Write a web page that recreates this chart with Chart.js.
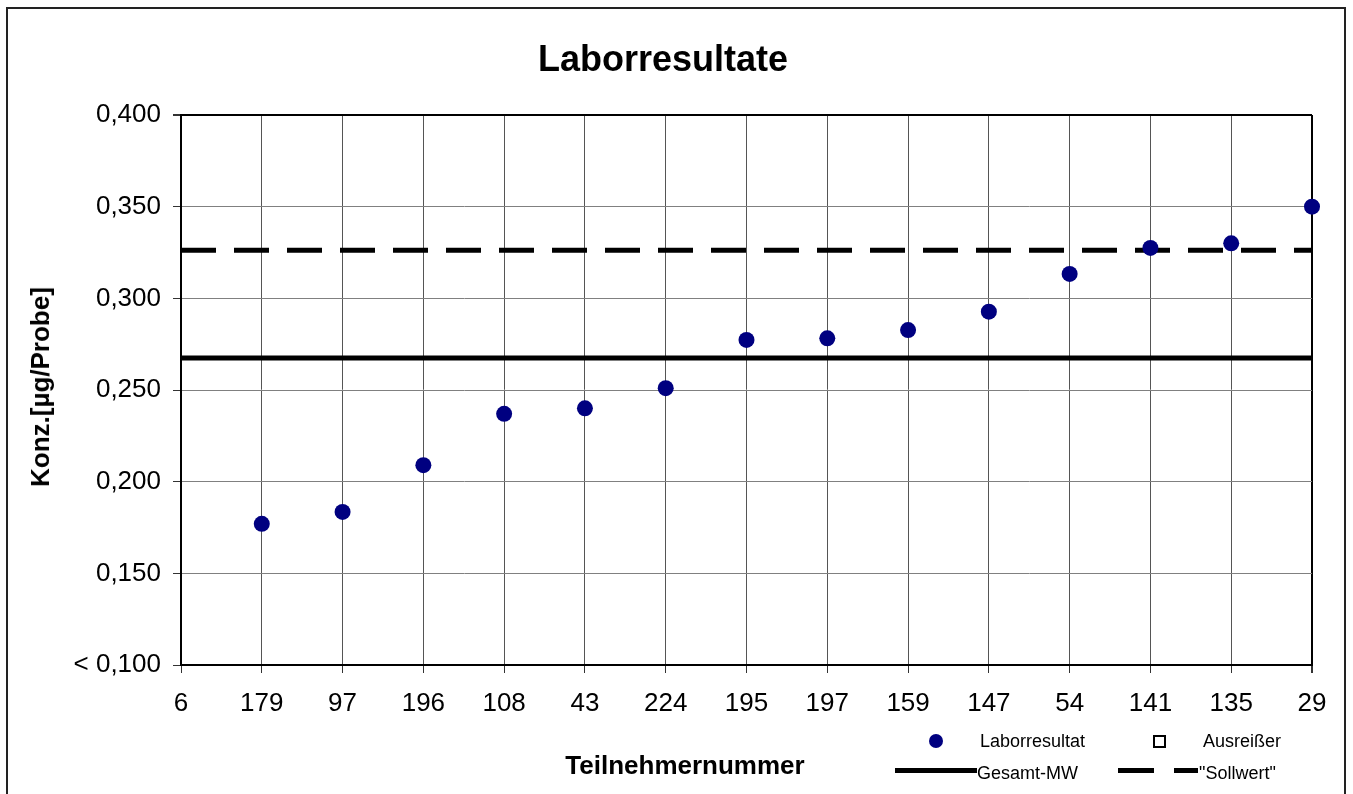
<!DOCTYPE html>
<html>
<head>
<meta charset="utf-8">
<script src="https://cdn.jsdelivr.net/npm/chart.js@4.4.0/dist/chart.umd.min.js"></script>
<style>
  html, body { margin: 0; padding: 0; background: #fff; }
  body { width: 1353px; height: 794px; position: relative; overflow: hidden; font-family: "Liberation Sans", Arial, sans-serif; }
  #frame { position: absolute; left: 6px; top: 7px; width: 1340px; height: 820px; border: 2px solid #222; box-sizing: border-box; }
  canvas { position: absolute; left: 0; top: 0; }
  .txt { position: absolute; line-height: 1; white-space: nowrap; color: #000; }
  #title { left: 663px; top: 41px; font-size: 36px; font-weight: bold; transform: translateX(-50%); }
  #xtitle { left: 685px; top: 752px; font-size: 26px; font-weight: bold; transform: translateX(-50%); }
  #ytitle { left: 40px; top: 387px; font-size: 26px; font-weight: bold; transform: translate(-50%, -50%) rotate(-90deg); }
  .leg { font-size: 18px; }
  .sw { position: absolute; background: #000; }
</style>
</head>
<body>
<div id="frame"></div>
<canvas id="chart" width="1353" height="794"></canvas>

<div class="txt" id="title">Laborresultate</div>
<div class="txt" id="xtitle">Teilnehmernummer</div>
<div class="txt" id="ytitle">Konz.[µg/Probe]</div>

<!-- legend -->
<div class="sw" style="left:929px; top:734px; width:14px; height:14px; border-radius:50%; background:#000080;"></div>
<div class="txt leg" style="left:980px; top:732px;">Laborresultat</div>
<div class="sw" style="left:1153px; top:735px; width:13px; height:13px; background:#fff; border:2px solid #000; box-sizing:border-box;"></div>
<div class="txt leg" style="left:1203px; top:732px;">Ausreißer</div>
<div class="sw" style="left:895px; top:768px; width:82px; height:5px;"></div>
<div class="txt leg" style="left:977px; top:764px;">Gesamt-MW</div>
<div class="sw" style="left:1118px; top:768px; width:36px; height:5px;"></div>
<div class="sw" style="left:1174px; top:768px; width:24px; height:5px;"></div>
<div class="txt leg" style="left:1199px; top:764px;">"Sollwert"</div>

<script>
// Teilnehmer (x categories)
const teilnehmer = ['6', '179', '97', '196', '108', '43', '224', '195', '197', '159', '147', '54', '141', '135', '29'];

// Laborresultate in µg/Probe (6 lies below the axis -> no point)
const laborresultat = [null, 0.177, 0.1835, 0.209, 0.237, 0.240, 0.251, 0.2773, 0.2782, 0.2827, 0.2927, 0.3133, 0.3275, 0.330, 0.350];

// Reference lines
const gesamtMW = 0.2675;
const sollwert = 0.3262;

// y axis
const yMin = 0.100;
const yMax = 0.400;
const yStep = 0.050;

const first = teilnehmer[0];
const last = teilnehmer[teilnehmer.length - 1];

const FONT = '"Liberation Sans", Arial, sans-serif';

const ctx = document.getElementById('chart').getContext('2d');
new Chart(ctx, {
  type: 'line',
  data: {
    labels: teilnehmer,
    datasets: [
      {
        label: 'Laborresultat',
        data: laborresultat,
        showLine: false,
        pointRadius: 8,
        pointHoverRadius: 8,
        pointBackgroundColor: '#000080',
        pointBorderColor: '#000080',
        pointBorderWidth: 0
      },
      {
        label: 'Gesamt-MW',
        data: [{ x: first, y: gesamtMW }, { x: last, y: gesamtMW }],
        borderColor: '#000',
        borderWidth: 5,
        pointRadius: 0,
        fill: false
      },
      {
        label: '"Sollwert"',
        data: [{ x: first, y: sollwert }, { x: last, y: sollwert }],
        borderColor: '#000',
        borderWidth: 5,
        borderDash: [35, 18],
        pointRadius: 0,
        fill: false
      }
    ]
  },
  options: {
    responsive: false,
    animation: false,
    maintainAspectRatio: false,
    layout: { padding: { top: 115, right: 41, left: 0, bottom: 0 } },
    plugins: {
      legend: { display: false },
      title: { display: false },
      tooltip: { enabled: false }
    },
    scales: {
      x: {
        type: 'category',
        offset: false,
        afterFit: s => { s.height = 129; },
        border: { color: '#000', width: 2 },
        grid: {
          offset: false,
          color: c => c.index === teilnehmer.length - 1 ? '#000' : '#555',
          lineWidth: c => c.index === teilnehmer.length - 1 ? 2 : 1,
          tickColor: '#333',
          tickLength: 8
        },
        ticks: {
          color: '#000',
          padding: 15,
          maxRotation: 0,
          autoSkip: false,
          font: { family: FONT, size: 26 }
        }
      },
      y: {
        min: yMin,
        max: yMax,
        afterFit: s => { s.width = 181; },
        border: { color: '#000', width: 2 },
        grid: {
          color: c => c.index === c.scale.ticks.length - 1 ? '#000' : '#808080',
          lineWidth: c => c.index === c.scale.ticks.length - 1 ? 2 : 1,
          tickColor: '#333',
          tickLength: 8
        },
        ticks: {
          stepSize: yStep,
          color: '#000',
          padding: 12,
          font: { family: FONT, size: 26 },
          callback: v => v <= yMin + 1e-9 ? '< 0,100' : v.toFixed(3).replace('.', ',')
        }
      }
    }
  }
});
</script>
</body>
</html>
